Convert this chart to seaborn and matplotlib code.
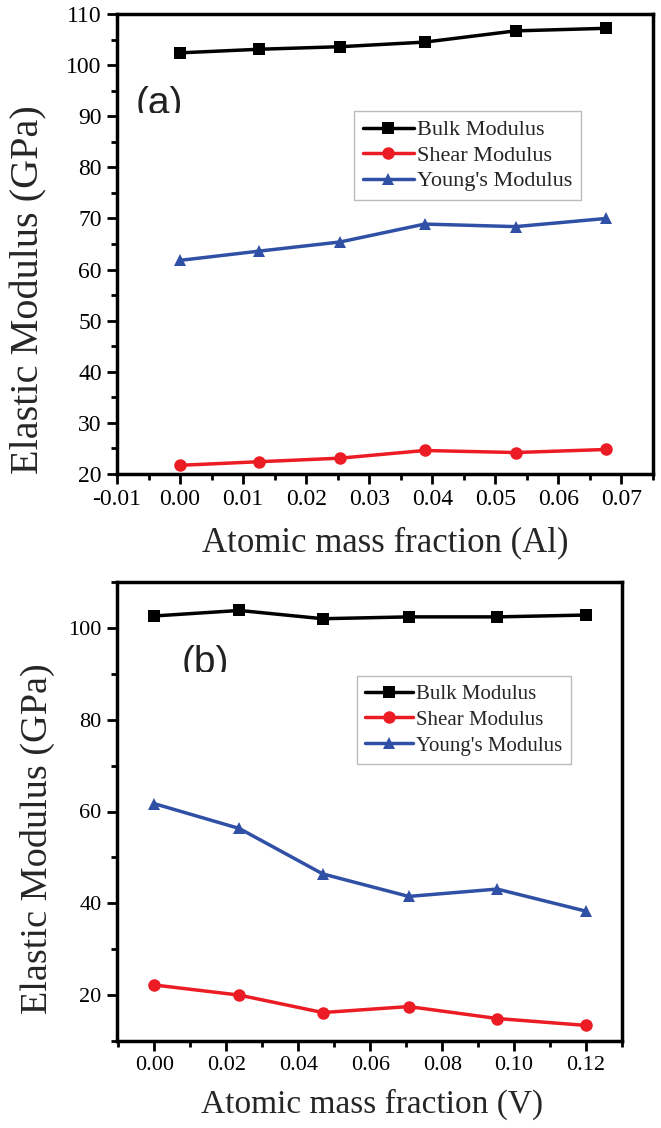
import numpy as np
import pandas as pd
import seaborn as sns
import matplotlib
matplotlib.use("Agg")
import matplotlib.pyplot as plt
from matplotlib.ticker import MultipleLocator, FormatStrFormatter

# Data
series = ["Bulk Modulus", "Shear Modulus", "Young's Modulus"]

xAl = [0.0, 0.0125, 0.0254, 0.0388, 0.0532, 0.0676]
bulkAl = [102.4, 103.1, 103.6, 104.5, 106.7, 107.2]
shearAl = [21.7, 22.4, 23.1, 24.6, 24.2, 24.8]
youngAl = [61.8, 63.6, 65.4, 68.9, 68.4, 70.0]

xV = [0.0, 0.0236, 0.0468, 0.0707, 0.0953, 0.1199]
bulkV = [102.6, 103.8, 102.0, 102.4, 102.4, 102.8]
shearV = [22.2, 20.0, 16.2, 17.5, 14.9, 13.4]
youngV = [61.7, 56.3, 46.4, 41.5, 43.1, 38.3]

pal = {"Bulk Modulus": "#000000", "Shear Modulus": "#ec1c24", "Young's Modulus": "#3050a6"}
mrk = {"Bulk Modulus": "s", "Shear Modulus": "o", "Young's Modulus": "^"}


def longForm(x, bulk, shear, young):
    return pd.concat([pd.DataFrame({"x": x, "y": v, "series": s})
                      for s, v in zip(series, [bulk, shear, young])], ignore_index=True)


dataAl = longForm(xAl, bulkAl, shearAl, youngAl)
dataV = longForm(xV, bulkV, shearV, youngV)

sns.set_style("ticks")
plt.rcParams['font.family'] = ['Liberation Serif', 'DejaVu Serif']

fig = plt.figure(figsize=(6.61, 11.28), dpi=100)
axA = fig.add_axes([117/661, 1-474/1128, 536/661, 460/1128])
axB = fig.add_axes([117/661, 1-1041/1128, 505/661, 459/1128])


def drawPanel(ax, data, tickSize, legSize, legSpace):
    sns.lineplot(data=data, x="x", y="y", hue="series", style="series", hue_order=series,
                 style_order=series, palette=pal, markers=mrk, dashes=False, linewidth=2.5,
                 markersize=9, markeredgewidth=0, ax=ax, legend=True)
    for sp in ax.spines.values():
        sp.set_linewidth(2.5)
        sp.set_color("black")
    ax.tick_params(which="major", direction="out", length=7, width=2, labelsize=tickSize,
                   color="black", labelcolor="black", pad=4)
    ax.tick_params(which="minor", direction="out", length=4, width=2, color="black")
    ax.tick_params(top=False, right=False)
    h, l = ax.get_legend_handles_labels()
    leg = ax.legend(h, l, fontsize=legSize, frameon=True, fancybox=False, edgecolor="#aaaaaa",
                    handlelength=2.3, handletextpad=0.15, borderpad=0.4, labelspacing=legSpace,
                    borderaxespad=0, loc="upper left")
    leg.get_frame().set_linewidth(1.0)
    for ln in leg.get_lines():
        ln.set_linewidth(2.5)
    return leg


def panelTag(ax, x, yBase, yCut, s):
    # the tag is cut off at its lower part in the original figure
    t = ax.text(x, yBase, s, transform=ax.transAxes, fontsize=28, va="baseline", ha="left",
                family="Liberation Sans", color="#222222")
    clip = plt.Rectangle((0, yCut), 1, 1 - yCut, transform=ax.transAxes,
                         facecolor="none", edgecolor="none")
    ax.add_patch(clip)
    t.set_clip_path(clip)
    t.set_clip_on(True)


legA = drawPanel(axA, dataAl, 17, 16, 0.22)
axA.set_xlim(-0.01, 0.075)
axA.set_ylim(20, 110)
axA.xaxis.set_major_locator(MultipleLocator(0.01))
axA.xaxis.set_minor_locator(MultipleLocator(0.005))
axA.xaxis.set_major_formatter(FormatStrFormatter("%.2f"))
axA.yaxis.set_major_locator(MultipleLocator(10))
axA.yaxis.set_minor_locator(MultipleLocator(5))
axA.set_xlabel("Atomic mass fraction (Al)", fontsize=25)
axA.set_ylabel("Elastic Modulus (GPa)", fontsize=29)
axA.xaxis.set_label_coords(0.5, -0.113)
axA.yaxis.set_label_coords(-0.13, 0.40)
legA.set_bbox_to_anchor(((354-117)/536, (474-111)/460), transform=axA.transAxes)
panelTag(axA, 0.034, (474-114)/460, (474-113)/460, "(a)")

legB = drawPanel(axB, dataV, 16, 15, 0.3)
axB.set_xlim(-0.0104, 0.13)
axB.set_ylim(10, 110)
axB.xaxis.set_major_locator(MultipleLocator(0.02))
axB.xaxis.set_minor_locator(MultipleLocator(0.01))
axB.xaxis.set_major_formatter(FormatStrFormatter("%.2f"))
axB.yaxis.set_major_locator(MultipleLocator(20))
axB.yaxis.set_minor_locator(MultipleLocator(10))
axB.set_xlabel("Atomic mass fraction (V)", fontsize=24)
axB.set_ylabel("Elastic Modulus (GPa)", fontsize=27.5)
axB.xaxis.set_label_coords(0.505, -0.105)
axB.yaxis.set_label_coords(-0.123, 0.44)
legB.set_bbox_to_anchor(((357-117)/505, (1041-676)/459), transform=axB.transAxes)
panelTag(axB, 0.127, (1041-673)/459, (1041-672)/459, "(b)")

fig.savefig("out.png", dpi=100)
